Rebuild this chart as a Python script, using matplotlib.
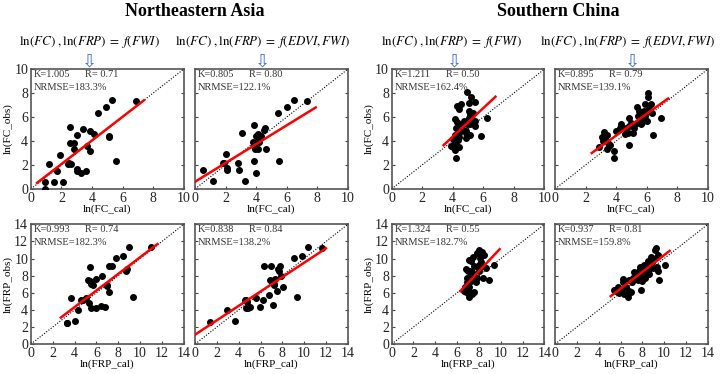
import numpy as np
import matplotlib
matplotlib.use("Agg")
from matplotlib import pyplot as plt

plt.rcParams['font.family'] = ['Liberation Serif', 'DejaVu Serif']
plt.rcParams['mathtext.fontset'] = 'stix'

# ---- Northeastern Asia, ln(FC) ----
ne_fc_fwi_x = [0.9, 0.9, 1.2, 1.5, 1.7, 1.9, 2.1, 2.4, 2.5, 2.55, 2.55, 2.65, 2.8, 2.8, 3.0, 3.0, 3.0,
               3.3, 3.4, 3.6, 3.7, 3.85, 3.85, 4.1, 4.4, 4.9, 5.3, 5.1, 5.1, 5.6, 6.9]
ne_fc_fwi_y = [0.6, 0.0, 2.1, 0.6, 1.5, 2.8, 0.6, 2.1, 2.2, 5.2, 3.85, 2.1, 3.8, 3.3, 1.65, 1.5, 4.5,
               1.3, 5.0, 1.5, 3.55, 3.2, 4.8, 4.6, 6.3, 6.8, 7.4, 4.4, 4.3, 2.3, 7.35]
ne_fc_edvi_x = [0.54, 1.15, 2.0, 1.8, 1.9, 2.1, 2.1, 2.8, 2.9, 3.1, 3.3, 3.8, 3.85, 3.85, 3.9, 3.85,
                4.0, 4.0, 4.1, 4.15, 4.2, 4.2, 4.3, 4.5, 4.55, 4.65, 5.4, 5.5, 6.0, 6.5, 7.3]
ne_fc_edvi_y = [1.54, 0.62, 2.9, 2.15, 2.15, 1.75, 1.6, 2.15, 1.55, 4.7, 0.62, 3.9, 5.3, 3.55, 3.3, 2.35,
                1.3, 4.4, 4.55, 3.3, 3.9, 4.3, 4.4, 4.95, 5.1, 3.3, 6.35, 2.35, 6.85, 7.45, 7.35]

# ---- Northeastern Asia, ln(FRP) ----
ne_frp_fwi_x = [3.26, 3.32, 4.02, 3.66, 4.27, 4.57, 4.79, 5.09, 5.34, 5.49, 5.24, 5.4, 5.46, 5.55, 5.7,
                5.92, 6.0, 6.4, 6.52, 6.77, 7.01, 7.01, 7.13, 7.13, 7.44, 7.84, 8.45, 8.75, 8.84, 9.0,
                9.36, 11.04]
ne_frp_fwi_y = [2.5, 2.43, 2.74, 5.4, 3.98, 5.13, 5.2, 5.4, 4.83, 4.17, 7.45, 7.34, 9.07, 7.07, 6.87,
                4.25, 7.57, 4.48, 7.95, 4.36, 6.76, 6.95, 6.1, 9.1, 9.1, 10.04, 10.27, 8.6, 8.73, 11.3,
                5.52, 11.3]
ne_frp_edvi_x = [1.36, 2.94, 3.64, 4.55, 4.7, 4.76, 4.64, 4.85, 5.0, 5.55, 5.97, 6.21, 6.36, 6.82, 6.88,
                 6.97, 7.06, 7.18, 7.27, 7.36, 7.48, 7.58, 7.73, 7.79, 7.88, 8.03, 7.27, 9.03, 9.3, 9.79,
                 10.39, 11.6]
ne_frp_edvi_y = [2.55, 3.98, 2.74, 5.13, 5.2, 4.94, 4.25, 4.17, 4.36, 5.44, 4.36, 5.13, 9.18, 5.69, 7.45,
                 9.1, 7.26, 4.56, 7.07, 7.64, 6.18, 8.8, 8.6, 9.1, 7.95, 6.68, 6.87, 10.04, 5.52, 10.27,
                 11.3, 11.23]

# ---- Southern China, ln(FC) ----
sc_fc_fwi_x = [4.23, 4.05, 3.9, 4.18, 4.44, 4.12, 4.22, 4.33, 4.05, 4.4, 4.18, 4.44, 4.66, 4.84, 4.88,
               4.22, 4.12, 4.27, 4.66, 4.4, 4.27, 4.55, 4.92, 5.2, 5.05, 5.49, 5.05, 5.14, 5.32, 5.05,
               5.27, 5.49, 4.77, 4.92, 5.14, 5.44, 4.44, 6.23, 5.86, 5.1, 4.88]
sc_fc_fwi_y = [2.58, 3.5, 3.56, 3.28, 3.47, 3.84, 3.98, 4.12, 4.17, 4.34, 4.54, 4.68, 4.9, 4.82, 4.68,
               5.1, 5.8, 5.57, 5.38, 6.64, 6.92, 7.06, 8.1, 7.68, 7.2, 7.26, 6.5, 6.22, 6.36, 5.94,
               5.8, 5.71, 5.66, 5.38, 5.38, 5.29, 5.38, 5.88, 4.45, 4.54, 4.26]
sc_fc_edvi_x = [2.88, 3.14, 3.2, 3.1, 3.3, 3.4, 3.46, 3.53, 3.57, 3.4, 3.85, 3.85, 3.96, 4.22, 4.33,
                4.55, 4.65, 4.8, 4.87, 4.87, 4.87, 4.98, 5.09, 5.2, 5.35, 5.41, 5.37, 5.52, 5.63, 5.69,
                5.74, 5.84, 5.9, 6.02, 5.87, 6.06, 6.08, 6.28, 6.0, 6.17, 6.34, 6.93, 6.39, 5.63]
sc_fc_edvi_y = [3.5, 4.03, 4.76, 4.31, 4.2, 4.54, 3.84, 3.56, 3.7, 3.36, 3.19, 2.58, 4.87, 5.1, 5.43,
                4.6, 5.1, 4.68, 3.7, 5.24, 5.94, 5.52, 4.68, 5.1, 5.52, 6.13, 6.83, 6.5, 5.94, 6.22,
                5.66, 6.5, 6.08, 5.66, 7.1, 8.0, 7.67, 7.1, 6.5, 6.64, 6.36, 5.94, 4.48, 5.43]

# ---- Southern China, ln(FRP) ----
sc_frp_fwi_x = [7.06, 7.13, 6.82, 6.67, 6.97, 7.37, 6.76, 7.06, 6.88, 7.28, 7.43, 7.13, 6.88, 7.58,
                6.97, 7.19, 6.82, 7.37, 7.58, 7.89, 8.04, 7.28, 7.06, 7.49, 7.8, 7.98, 8.29, 8.1, 8.5,
                8.2, 8.41, 8.65, 8.04, 7.8, 7.74, 8.35, 8.96, 9.42, 7.58]
sc_frp_fwi_y = [5.49, 5.88, 6.07, 6.26, 6.34, 5.88, 6.65, 6.73, 7.23, 7.42, 7.62, 7.73, 7.73, 7.89,
                8.51, 8.58, 8.78, 8.39, 9.16, 9.05, 9.28, 9.67, 9.82, 10.2, 10.71, 10.98, 10.79, 10.05,
                10.44, 9.55, 9.16, 8.89, 8.58, 7.73, 7.23, 7.73, 7.5, 9.28, 6.07]
sc_frp_edvi_x = [5.36, 5.6, 5.76, 5.85, 6.06, 6.15, 6.21, 6.27, 6.36, 6.52, 6.67, 6.76, 6.82, 6.97,
                 7.06, 7.18, 7.27, 7.42, 7.58, 7.67, 7.73, 7.79, 7.88, 7.97, 8.03, 8.09, 8.18, 8.27,
                 8.33, 8.48, 8.58, 8.64, 8.79, 8.88, 8.97, 9.09, 9.18, 9.24, 9.3, 9.39, 9.48, 9.48,
                 9.55, 10.09, 7.97, 8.48]
sc_frp_edvi_y = [6.34, 6.26, 6.65, 5.96, 6.07, 6.46, 7.23, 7.62, 5.88, 6.65, 5.49, 6.26, 7.5, 6.07,
                 7.23, 7.73, 8.39, 8.0, 7.5, 8.58, 7.89, 9.05, 6.34, 7.42, 8.89, 8.39, 9.28, 7.73,
                 8.66, 9.74, 8.2, 9.16, 10.13, 9.55, 8.89, 9.94, 10.98, 11.2, 10.21, 8.97, 8.58, 10.44,
                 7.5, 9.28, 7.81, 8.51]

# fitted lines (x ends, y ends)
fit_x = {'a': [0.4, 7.4], 'b': [0.0, 7.9], 'c': [3.4, 6.8], 'd': [2.4, 7.4],
         'e': [2.74, 11.6], 'f': [0.05, 12.0], 'g': [6.3, 9.9], 'h': [5.1, 10.5]}
fit_y = {'a': [0.5, 7.4], 'b': [0.6, 6.8], 'c': [3.65, 7.7], 'd': [3.0, 7.55],
         'e': [3.1, 11.7], 'f': [1.15, 11.2], 'g': [6.2, 11.1], 'h': [5.6, 10.9]}

stats_k = {'a': '1.005', 'b': '0.805', 'c': '1.211', 'd': '0.895',
           'e': '0.993', 'f': '0.838', 'g': '1.324', 'h': '0.937'}
stats_r = {'a': '0.71', 'b': '0.80', 'c': '0.50', 'd': '0.79',
           'e': '0.74', 'f': '0.84', 'g': '0.55', 'h': '0.81'}
stats_nrmse = {'a': '183.3%', 'b': '122.1%', 'c': '162.4%', 'd': '139.1%',
               'e': '182.3%', 'f': '138.2%', 'g': '182.7%', 'h': '159.8%'}

regions = ['Northeastern Asia', 'Southern China']
formulas = [r'$\ln(FC)\ ,\ln(FRP)\;=\;f(FWI)$', r'$\ln(FC)\ ,\ln(FRP)\;=\;f(EDVI,FWI)$']

panels = [
    ('a', ne_fc_fwi_x, ne_fc_fwi_y, 0, 0), ('b', ne_fc_edvi_x, ne_fc_edvi_y, 0, 1),
    ('c', sc_fc_fwi_x, sc_fc_fwi_y, 0, 2), ('d', sc_fc_edvi_x, sc_fc_edvi_y, 0, 3),
    ('e', ne_frp_fwi_x, ne_frp_fwi_y, 1, 0), ('f', ne_frp_edvi_x, ne_frp_edvi_y, 1, 1),
    ('g', sc_frp_fwi_x, sc_frp_fwi_y, 1, 2), ('h', sc_frp_edvi_x, sc_frp_edvi_y, 1, 3),
]

fig = plt.figure(figsize=(7.2, 3.74), dpi=100)
lefts = [0.043, 0.271, 0.544, 0.771]
bottoms = [0.495, 0.080]
w, h = 0.212, 0.32

for key, xs, ys, row, col in panels:
    ax = fig.add_axes([lefts[col], bottoms[row], w, h])
    lim = 10 if row == 0 else 14
    ax.plot([0, lim], [0, lim], color='black', ls=(0, (1, 1.5)), lw=0.8)
    ax.scatter(xs, ys, s=16, c='black', zorder=3)
    ax.plot(fit_x[key], fit_y[key], color='red', lw=1.8, zorder=4)
    ax.set_xlim(0, lim)
    ax.set_ylim(0, lim)
    ax.set_xticks(np.arange(0, lim + 1, 2))
    ax.set_yticks(np.arange(0, lim + 1, 2))
    ax.tick_params(direction='in', right=True, length=2.5, width=0.8,
                   labelsize=10, pad=2, colors='#444444', labelcolor='#222222')
    if col % 2 == 1:
        ax.set_yticklabels([])
    for sp in ax.spines.values():
        sp.set_color('#555555')
        sp.set_linewidth(1.2)
    var = 'FC' if row == 0 else 'FRP'
    ax.set_xlabel('ln(%s_cal)' % var, fontsize=8, labelpad=0)
    if col % 2 == 0:
        ax.set_ylabel('ln(%s_obs)' % var, fontsize=8, labelpad=1)
    ax.text(0.02, 0.955, 'K=' + stats_k[key], transform=ax.transAxes, fontsize=7.5,
            color='#333333', va='center')
    ax.text(0.355, 0.955, 'R= ' + stats_r[key], transform=ax.transAxes, fontsize=7.5,
            color='#333333', va='center')
    ax.text(0.02, 0.85, 'NRMSE=' + stats_nrmse[key], transform=ax.transAxes, fontsize=7.5,
            color='#333333', va='center')

# headers
fig.text(0.27, 0.968, regions[0], ha='center', va='center', fontsize=13, fontweight='bold')
fig.text(0.775, 0.968, regions[1], ha='center', va='center', fontsize=13, fontweight='bold')
formula_x = [0.124, 0.365, 0.627, 0.872]
arrow_x = [0.124, 0.365, 0.631, 0.878]
for i in range(4):
    fig.text(formula_x[i], 0.888, formulas[i % 2], ha='center', va='center', fontsize=9.4)
    fig.text(arrow_x[i], 0.835, '\u21e9', ha='center', va='center', fontsize=13,
             color='#4472C4', family='DejaVu Sans')

fig.savefig('out.png', dpi=100)
